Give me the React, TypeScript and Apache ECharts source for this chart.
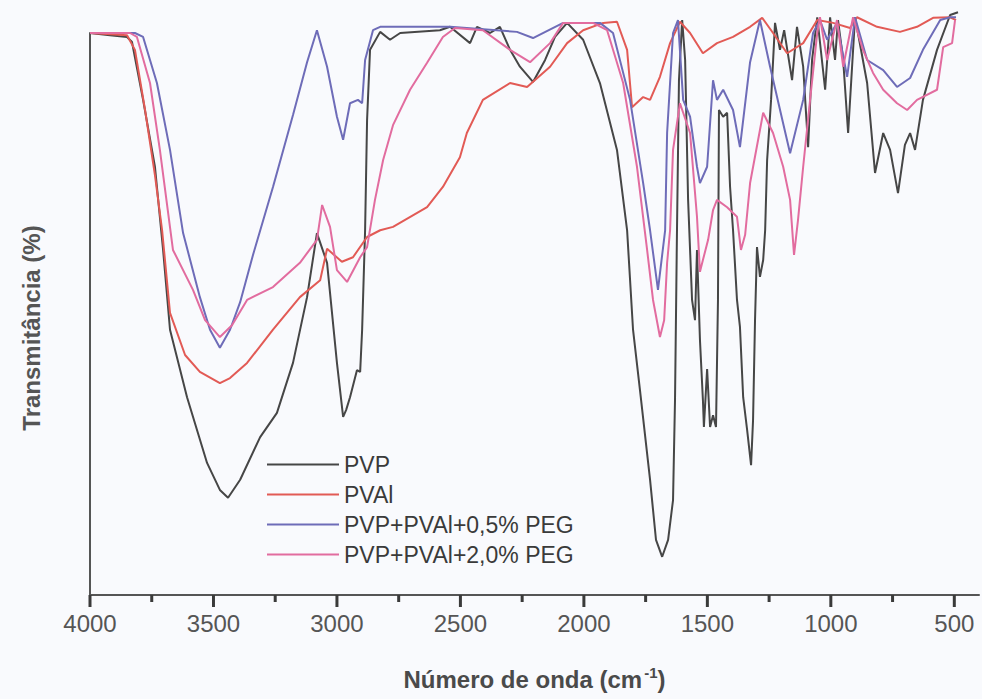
import React, { useEffect, useRef } from "react";
import * as echarts from "echarts";

const seriesNames = ["PVP", "PVAl", "PVP+PVAl+0,5% PEG", "PVP+PVAl+2,0% PEG"];
const seriesColors = ["#464646", "#e25a55", "#6e6cb8", "#e26c9f"];
const majorTicks = [4000, 3500, 3000, 2500, 2000, 1500, 1000, 500];
const minorTicks = [3750, 3250, 2750, 2250, 1750, 1250, 750];

// [wavenumber (cm-1), transmittance (arb. %)]
const pvp: number[][] = [
  [4000, 100], [3919, 99.6], [3850, 99.3], [3830, 98.4], [3785, 88.1], [3737, 76.2],
  [3704, 61.4], [3676, 47.2], [3607, 35.2], [3526, 23.5], [3474, 18.7], [3441, 17.3],
  [3392, 20.5], [3311, 28.1], [3243, 32.4], [3178, 41.3], [3121, 53.0], [3081, 64.4],
  [3040, 59.1], [3000, 41.3], [2975, 31.7], [2963, 32.9], [2947, 35.2], [2919, 40.0],
  [2906, 39.7], [2898, 47.2], [2886, 64.9], [2878, 84.5], [2866, 97.0], [2825, 100.2],
  [2785, 98.8], [2744, 100], [2583, 100.5], [2542, 101.1], [2461, 98.2], [2433, 101.1],
  [2380, 100], [2340, 101.1], [2299, 97.0], [2259, 94.0], [2206, 91.3], [2157, 95.2],
  [2117, 99.3], [2068, 101.8], [2003, 98.8], [1935, 91.1], [1866, 79.2], [1825, 64.9],
  [1801, 47.2], [1773, 36.5], [1732, 20.5], [1708, 9.8], [1683, 6.8], [1659, 9.8],
  [1639, 16.9], [1631, 34.7], [1623, 64.9], [1615, 91.6], [1602, 102.3], [1590, 95.2],
  [1578, 70.3], [1562, 52.5], [1550, 48.9], [1542, 61.4], [1530, 45.4], [1518, 34.7],
  [1514, 29.9], [1501, 40.2], [1489, 29.9], [1477, 32.0], [1465, 29.9], [1457, 52.5],
  [1453, 86.3], [1436, 85.1], [1420, 85.8], [1408, 72.6], [1396, 64.9], [1380, 52.5],
  [1368, 47.7], [1355, 35.2], [1339, 29.4], [1323, 23.1], [1315, 31.1], [1307, 48.9],
  [1299, 61.9], [1287, 56.6], [1274, 59.6], [1266, 64.9], [1258, 77.4], [1242, 88.1],
  [1226, 101.8], [1206, 97.0], [1189, 100.5], [1157, 91.6], [1137, 101.1], [1112, 94.0],
  [1092, 79.7], [1076, 95.2], [1055, 102.8], [1023, 89.9], [1003, 102.8], [983, 95.2],
  [971, 102.3], [950, 95.2], [930, 82.2], [902, 102.8], [853, 91.1], [821, 75.1],
  [788, 82.2], [760, 79.2], [728, 71.5], [700, 80.1], [679, 82.2], [659, 79.2],
  [627, 88.1], [570, 97.0], [517, 103.2], [485, 103.7],
];

const pval: number[][] = [
  [4000, 100], [3850, 99.6], [3818, 97.0], [3777, 86.3], [3737, 74.7], [3708, 64.9],
  [3676, 50.2], [3615, 42.7], [3555, 39.7], [3474, 37.7], [3433, 38.6], [3364, 41.3],
  [3259, 47.2], [3150, 53.0], [3068, 56.0], [3040, 61.6], [2980, 59.3], [2935, 60.1],
  [2878, 63.7], [2825, 64.9], [2773, 65.5], [2635, 69.0], [2571, 72.6], [2502, 77.9],
  [2474, 82.2], [2409, 88.1], [2299, 91.1], [2230, 90.4], [2137, 94.0], [2068, 98.2],
  [2003, 100.5], [1922, 101.8], [1866, 102.0], [1825, 97.0], [1805, 86.8], [1760, 88.6],
  [1732, 88.1], [1692, 92.2], [1651, 98.2], [1611, 102.0], [1570, 100], [1518, 96.4],
  [1461, 98.2], [1396, 99.3], [1327, 101.1], [1278, 102.7], [1234, 100], [1177, 96.4],
  [1112, 98.2], [1055, 102.3], [991, 101.8], [922, 100.9], [894, 102.8], [813, 101.1],
  [720, 100.2], [651, 101.1], [586, 102.7], [517, 102.8], [493, 102.3],
];

const peg05: number[][] = [
  [4000, 100], [3818, 100], [3785, 99.3], [3757, 95.2], [3729, 91.1], [3676, 79.2],
  [3623, 64.4], [3555, 53.0], [3514, 47.2], [3474, 44.0], [3433, 47.2], [3392, 52.1],
  [3340, 60.5], [3259, 72.6], [3178, 85.4], [3121, 94.8], [3081, 100.5], [3040, 94.0],
  [3000, 85.1], [2975, 81.0], [2947, 87.5], [2915, 88.1], [2898, 87.5], [2886, 95.2],
  [2854, 100.5], [2825, 101.1], [2542, 101.1], [2271, 100.2], [2206, 99.1], [2084, 101.8],
  [1935, 101.8], [1882, 100], [1813, 88.1], [1760, 73.3], [1732, 64.9], [1700, 54.3],
  [1671, 64.9], [1663, 82.2], [1639, 100], [1619, 102.3], [1598, 88.1], [1570, 85.1],
  [1542, 76.2], [1530, 73.3], [1501, 76.2], [1477, 91.6], [1461, 88.1], [1436, 89.9],
  [1396, 86.3], [1368, 79.7], [1327, 94.8], [1287, 102.3], [1246, 94.0], [1193, 83.9],
  [1165, 78.6], [1112, 88.1], [1072, 100], [1044, 102.3], [1015, 98.8], [975, 101.8],
  [934, 92.2], [902, 102.8], [853, 95.2], [788, 93.4], [732, 90.4], [679, 92.0],
  [627, 97.0], [557, 102.3], [517, 102.8], [493, 102.8],
];

const peg20: number[][] = [
  [4000, 100], [3838, 100], [3810, 99.3], [3757, 91.1], [3717, 79.2], [3664, 61.4],
  [3583, 54.3], [3534, 48.9], [3474, 45.9], [3425, 48.0], [3364, 52.5], [3259, 54.8],
  [3150, 59.1], [3081, 63.2], [3060, 69.4], [3028, 65.5], [3000, 57.8], [2959, 55.7],
  [2906, 60.1], [2878, 61.9], [2846, 70.3], [2813, 77.4], [2773, 83.6], [2704, 89.9],
  [2635, 94.7], [2571, 99.3], [2522, 100.9], [2409, 100.5], [2299, 97.0], [2218, 94.8],
  [2137, 98.2], [2084, 101.8], [1963, 101.8], [1906, 100.5], [1841, 91.1], [1785, 76.2],
  [1744, 61.4], [1720, 52.5], [1692, 45.9], [1675, 48.9], [1663, 59.1], [1651, 64.9],
  [1639, 79.2], [1611, 87.5], [1570, 82.2], [1542, 67.3], [1530, 57.5], [1518, 59.6],
  [1497, 63.2], [1477, 68.5], [1461, 70.3], [1420, 69.0], [1380, 67.3], [1364, 61.4],
  [1347, 64.1], [1327, 73.3], [1274, 85.8], [1234, 82.2], [1193, 76.2], [1165, 70.3],
  [1149, 60.5], [1133, 66.7], [1112, 76.2], [1084, 88.1], [1055, 100], [1044, 102.8],
  [1015, 95.2], [975, 102.3], [950, 94.0], [910, 102.8], [870, 97.0], [829, 92.9],
  [788, 89.9], [732, 87.5], [691, 86.3], [651, 88.1], [570, 89.9], [545, 97.5],
  [509, 98.2], [497, 102.3],
];

const allData = [pvp, pval, peg05, peg20];

export default function App() {
  const ref = useRef<HTMLDivElement>(null);
  useEffect(() => {
    if (!ref.current) return;
    const chart = echarts.init(ref.current, undefined, { renderer: "svg" });
    const font = "'Liberation Sans', Arial, sans-serif";
    const tickColor = "#3a3a3a";
    chart.setOption({
      animation: false,
      backgroundColor: "#f9fafd",
      grid: { left: 90, right: 3, top: 33, bottom: 104 },
      legend: {
        orient: "vertical",
        left: 262,
        top: 448,
        itemWidth: 72,
        itemHeight: 2,
        itemGap: 7,
        icon: "rect",
        textStyle: { fontSize: 23, color: "#3a3a3a", fontFamily: font },
        data: seriesNames,
      },
      xAxis: {
        type: "value",
        min: 400,
        max: 4000,
        inverse: true,
        name: "{t|Número de onda (cm}{s|-1}{t|)}",
        nameLocation: "middle",
        nameGap: 70,
        nameTextStyle: {
          rich: {
            t: { fontSize: 24, fontWeight: "bold", color: "#4a4a4a", fontFamily: font },
            s: { fontSize: 15, fontWeight: "bold", color: "#4a4a4a", fontFamily: font, padding: [0, 0, 13, 2] },
          },
        },
        axisLine: { show: true, lineStyle: { color: "#555", width: 2 } },
        axisTick: { show: false },
        axisLabel: {
          customValues: majorTicks,
          formatter: (v: number) => String(v),
          fontSize: 24,
          color: "#555",
          margin: 16,
          fontFamily: font,
        },
        splitLine: { show: false },
      },
      yAxis: {
        type: "value",
        min: 0,
        max: 100,
        axisLine: { show: true, lineStyle: { color: "#555", width: 2 } },
        axisTick: { show: false },
        axisLabel: { show: false },
        splitLine: { show: false },
      },
      series: seriesNames.map((name, i) => ({
        name,
        type: "line",
        data: allData[i],
        showSymbol: false,
        symbol: "none",
        clip: false,
        color: seriesColors[i],
        lineStyle: { color: seriesColors[i], width: 2 },
      })),
    });

    // tick marks placed through the axis scale
    const y0 = chart.convertToPixel({ yAxisIndex: 0 }, 0) as number;
    const tickEls: any[] = [];
    majorTicks.forEach((v) => {
      const x = chart.convertToPixel({ xAxisIndex: 0 }, v) as number;
      tickEls.push({
        type: "rect",
        silent: true,
        z: 100,
        shape: { x: x - 1.5, y: y0, width: 3, height: 12 },
        style: { fill: tickColor },
      });
    });
    minorTicks.forEach((v) => {
      const x = chart.convertToPixel({ xAxisIndex: 0 }, v) as number;
      tickEls.push({
        type: "rect",
        silent: true,
        z: 100,
        shape: { x: x - 1.5, y: y0, width: 3, height: 7 },
        style: { fill: tickColor },
      });
    });
    chart.setOption({
      graphic: [
        {
          type: "text",
          x: 31,
          y: 328,
          rotation: Math.PI / 2,
          style: {
            text: "Transmitância (%)",
            font: "bold 24px 'Liberation Sans', Arial, sans-serif",
            fill: "#555",
            textAlign: "center",
            textVerticalAlign: "middle",
          },
        },
        ...tickEls,
      ],
    });
    return () => chart.dispose();
  }, []);
  return (
    <div
      ref={ref}
      style={{ position: "fixed", left: 0, top: 0, width: 982, height: 699 }}
    />
  );
}
